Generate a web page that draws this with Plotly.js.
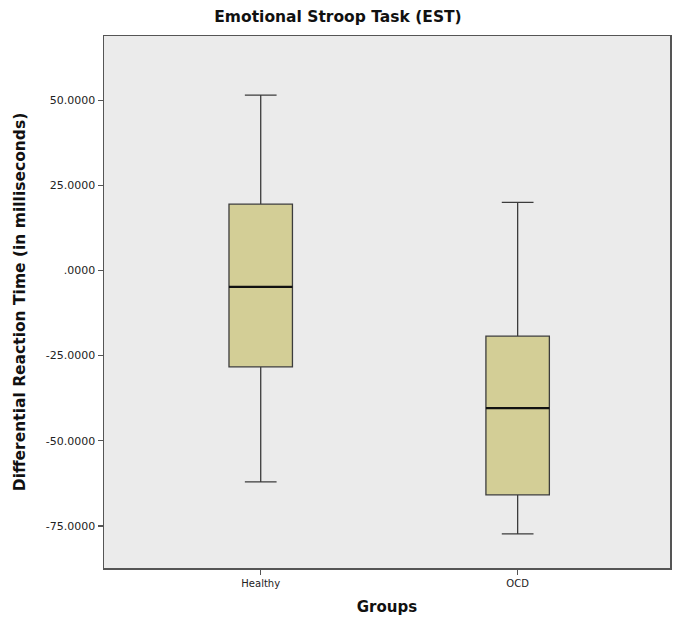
<!DOCTYPE html>
<html>
<head>
<meta charset="utf-8">
<script src="https://cdn.plot.ly/plotly-3.0.1.min.js"></script>
<style>html,body{margin:0;padding:0;background:#fff;}#chart{width:676px;height:617px;}</style>
</head>
<body>
<div id="chart"></div>
<script>
const groups = ['Healthy', 'OCD'];
const upperWhisker = [51.5, 20.0];
const q3Values = [19.5, -19.3];
const medianValues = [-4.8, -40.4];
const q1Values = [-28.3, -65.9];
const lowerWhisker = [-62.1, -77.4];
const yTickValues = [50, 25, 0, -25, -50, -75];
const yTickLabels = ['50.0000', '25.0000', '.0000', '-25.0000', '-50.0000', '-75.0000'];

const boxWidth = 0.247;
const font = 'DejaVu Sans, Verdana, sans-serif';

const trace = {
  type: 'box',
  x: groups,
  q1: q1Values,
  median: medianValues,
  q3: q3Values,
  lowerfence: lowerWhisker,
  upperfence: upperWhisker,
  boxpoints: false,
  width: boxWidth,
  whiskerwidth: 0.5,
  fillcolor: '#D3CE96',
  line: {color: '#3c3c3c', width: 1.3},
  hoverinfo: 'none',
  showlegend: false
};

const medianShapes = groups.map((g, i) => ({
  type: 'line', xref: 'x', yref: 'y',
  x0: i - boxWidth / 2, x1: i + boxWidth / 2,
  y0: medianValues[i], y1: medianValues[i],
  line: {color: '#111', width: 2.2}
}));

const layout = {
  width: 676, height: 617,
  margin: {l: 104, r: 6, t: 36, b: 49},
  paper_bgcolor: '#ffffff',
  plot_bgcolor: '#EBEBEB',
  font: {family: font, color: '#222'},
  title: {text: '<b>Emotional Stroop Task (EST)</b>', x: 0.5, xref: 'container', xanchor: 'center', y: 0.982, yanchor: 'top', font: {size: 15.5, family: font, color: '#111'}},
  xaxis: {
    type: 'category',
    range: [-0.61, 1.593],
    showgrid: false, zeroline: false,
    showline: true, linecolor: '#555', linewidth: 1.5, mirror: true,
    ticks: 'outside', ticklen: 5, tickcolor: '#555', tickwidth: 1.5,
    tickfont: {size: 10, family: font, color: '#222'},
    title: {text: '<b>Groups</b>', font: {size: 15, family: font, color: '#111'}, standoff: 14}
  },
  yaxis: {
    range: [-87.4, 68.9],
    tickvals: yTickValues, ticktext: yTickLabels,
    showgrid: false, zeroline: false,
    showline: true, linecolor: '#555', linewidth: 1.5, mirror: true,
    ticks: 'outside', ticklen: 5, tickcolor: '#555', tickwidth: 1.5,
    tickfont: {size: 11, family: font, color: '#222'},
    title: {text: '<b>Differential Reaction Time (in milliseconds)</b>', font: {size: 15.5, family: font, color: '#111'}, standoff: 16}
  },
  shapes: medianShapes
};

Plotly.newPlot('chart', [trace], layout, {displayModeBar: false, staticPlot: true});
</script>
</body>
</html>
